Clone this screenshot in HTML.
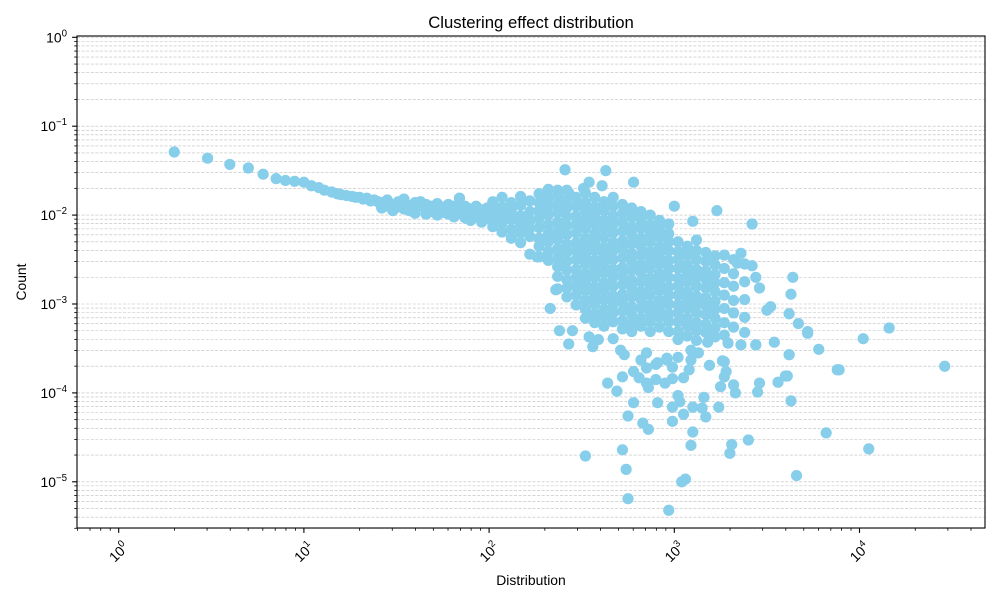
<!DOCTYPE html>
<html><head><meta charset="utf-8"><style>
html,body{margin:0;padding:0;background:#fff;}
svg{display:block;font-family:"Liberation Sans","DejaVu Sans",sans-serif;}
</style></head><body>
<svg id="chart" width="1000" height="600" viewBox="0 0 1000 600" xmlns="http://www.w3.org/2000/svg">
<rect width="1000" height="600" fill="#fff"/>
<g id="grid"></g>
<g id="points"></g>
<rect x="77" y="36" width="908" height="492" fill="none" stroke="#000" stroke-width="1.1"/>
<g id="xticks"></g>
<g id="yticks"></g>
<text x="531" y="28" text-anchor="middle" font-size="16.7">Clustering effect distribution</text>
<text x="531" y="585" text-anchor="middle" font-size="13.9">Distribution</text>
<text x="26" y="282" text-anchor="middle" font-size="13.9" transform="rotate(-90 26 282)">Count</text>
</svg>
<script>
// log10 of Distribution (one per column) and log10 of Count values in that column
const distLog = [
0.30,0.48,0.60,0.70,0.78,0.85,0.90,0.95,1.00,1.04,1.08,1.11,1.15,1.18,1.20,1.23,1.26,1.28,1.30,1.32,1.34,1.36,1.38,1.40,
1.42,1.45,1.48,1.51,1.54,1.57,1.60,1.63,1.66,1.69,1.72,1.75,1.78,1.81,1.84,1.87,1.90,1.93,1.96,1.99,
2.02,2.07,2.12,2.17,2.22,2.27,2.32,
2.37,2.42,2.47,2.52,
2.57,2.62,2.67,2.72,2.77,2.82,2.87,2.92,2.97,
3.02,3.07,3.12,3.17,3.22,
3.27,3.32,3.38
];
const countLog = [
[-1.29],[-1.36],[-1.43],[-1.47],[-1.54],[-1.59],[-1.61],[-1.62],[-1.63],[-1.67],[-1.69],[-1.72],[-1.74],[-1.76],[-1.77],[-1.78],[-1.79],[-1.80],[-1.80],[-1.82],[-1.81],[-1.84],[-1.83],[-1.85],
[-1.86,-1.92],[-1.83,-1.90],[-1.88,-1.95],[-1.85,-1.91],[-1.87,-1.93,-1.82],[-1.89,-1.95],[-1.86,-1.92,-1.98],[-1.90,-1.85],[-1.93,-1.88,-1.99],[-1.90,-1.96],[-1.94,-1.87,-2.00],[-1.91,-1.97],[-1.93,-1.99,-1.88],[-1.95,-1.90,-2.02],[-1.97,-1.92,-1.81],[-1.95,-2.03,-1.90],[-1.98,-1.93,-2.06],[-1.96,-2.02,-1.90],[-2.00,-1.94,-2.08],[-1.97,-2.04,-1.92],
[-1.85,-1.94,-2.04,-2.13],
[-1.80,-1.91,-2.00,-2.09,-2.19],
[-1.86,-1.95,-2.05,-2.16,-2.26],
[-1.79,-1.89,-2.01,-2.10,-2.20,-2.31],
[-1.84,-1.96,-2.06,-2.15,-2.24,-2.44],
[-1.76,-1.86,-1.95,-2.04,-2.14,-2.26,-2.35,-2.47],
[-1.71,-1.81,-1.90,-2.00,-2.11,-2.21,-2.30,-2.41,-2.51],
[-1.78,-1.88,-1.97,-2.08,-2.18,-2.27,-2.38,-2.48,-2.58,-2.69,-2.83],
[-1.72,-1.83,-1.92,-2.02,-2.12,-2.22,-2.33,-2.42,-2.52,-2.62,-2.73,-2.82,-2.92],
[-1.80,-1.90,-2.01,-2.10,-2.20,-2.31,-2.40,-2.50,-2.61,-2.70,-2.80,-2.90,-3.01],
[-1.75,-1.86,-1.95,-2.05,-2.15,-2.26,-2.35,-2.45,-2.55,-2.66,-2.75,-2.85,-2.96,-3.06,-3.16],
[-1.80,-1.91,-2.00,-2.10,-2.21,-2.30,-2.40,-2.51,-2.60,-2.70,-2.81,-2.90,-3.00,-3.11,-3.21],
[-1.85,-1.95,-2.06,-2.15,-2.25,-2.36,-2.45,-2.55,-2.65,-2.76,-2.85,-2.95,-3.06,-3.15,-3.25],
[-1.80,-1.90,-2.01,-2.10,-2.20,-2.31,-2.40,-2.50,-2.61,-2.70,-2.80,-2.91,-3.00,-3.10,-3.20],
[-1.88,-1.98,-2.08,-2.18,-2.29,-2.38,-2.48,-2.59,-2.68,-2.78,-2.89,-2.98,-3.08,-3.19,-3.28],
[-1.92,-2.02,-2.13,-2.22,-2.32,-2.43,-2.52,-2.62,-2.73,-2.82,-2.92,-3.03,-3.12,-3.22,-3.31],
[-1.96,-2.06,-2.15,-2.26,-2.35,-2.45,-2.56,-2.65,-2.75,-2.86,-2.95,-3.05,-3.16,-3.25],
[-2.00,-2.11,-2.20,-2.30,-2.41,-2.50,-2.60,-2.71,-2.80,-2.90,-3.01,-3.10,-3.20,-3.31],
[-2.06,-2.15,-2.25,-2.36,-2.45,-2.55,-2.66,-2.75,-2.85,-2.96,-3.05,-3.15,-3.26],
[-2.10,-2.21,-2.30,-2.40,-2.51,-2.60,-2.70,-2.81,-2.90,-3.00,-3.11,-3.20,-3.31],
[-2.30,-2.41,-2.50,-2.60,-2.71,-2.80,-2.90,-3.01,-3.10,-3.20,-3.31,-3.40],
[-2.35,-2.45,-2.56,-2.65,-2.75,-2.86,-2.95,-3.05,-3.16,-3.25,-3.36],
[-2.28,-2.40,-2.50,-2.61,-2.70,-2.80,-2.91,-3.00,-3.10,-3.21,-3.30,-3.41],
[-2.42,-2.52,-2.63,-2.72,-2.82,-2.93,-3.02,-3.12,-3.23,-3.32],
[-2.46,-2.56,-2.67,-2.76,-2.86,-2.97,-3.06,-3.16,-3.27,-3.37],
[-2.45,-2.60,-2.76,-2.90,-3.05,-3.21,-3.35],
[-2.50,-2.66,-2.80,-2.96,-3.10,-3.26],
[-2.55,-2.75,-2.95,-3.15,-3.32]
];
// individual scattered points (log10 Distribution, log10 Count)
const outlierDistLog = [2.41,2.63,2.78,2.54,2.51,2.61,2.37,2.43,3.23,3.42,3.10,3.00,1.84,2.26,2.36,2.38,2.43,2.33,
2.45,2.54,2.56,2.59,2.67,2.71,2.73,2.82,2.85,2.91,2.96,3.02,2.99,3.09,3.13,3.09,3.19,3.18,3.29,3.36,3.44,3.54,3.62,3.78,3.72,3.88,3.27,3.28,3.27,3.25,3.32,3.33,3.46,3.45,3.56,3.61,3.63,3.24,3.16,3.15,3.17,3.10,3.05,3.02,3.03,2.99,2.99,3.10,3.09,3.31,3.30,3.40,3.82,3.66,3.06,3.04,2.97,2.75,2.74,2.72,2.52,2.83,2.86,2.75,2.78,2.91,2.69,2.64,2.72,2.81,2.85,2.86,2.90,2.95,2.99,3.05,3.08,2.78,2.85,2.90,2.96,3.26,
3.64,3.63,3.62,3.67,3.72,3.62,3.60,3.89,4.02,4.16,4.46,3.52,3.50,3.44,3.46,3.42,3.36,3.34,3.44,4.05];
const outlierCountLog = [-1.49,-1.50,-1.63,-1.63,-1.70,-1.67,-1.72,-1.75,-1.95,-2.10,-2.07,-1.90,-1.81,-2.47,-2.84,-3.30,-3.45,-3.05,
-3.30,-3.37,-3.48,-3.40,-3.39,-3.52,-3.57,-3.63,-3.55,-3.66,-3.63,-3.60,-3.71,-3.52,-3.55,-3.63,-3.69,-3.43,-3.44,-3.46,-3.46,-3.43,-3.57,-3.51,-3.33,-3.74,-3.65,-3.76,-3.82,-3.93,-3.91,-4.00,-3.89,-3.99,-3.88,-3.81,-4.09,-4.16,-4.05,-4.17,-4.27,-4.16,-4.24,-4.03,-4.10,-4.16,-4.32,-4.44,-4.59,-4.58,-4.68,-4.53,-4.45,-4.93,-4.97,-5.00,-5.32,-5.19,-4.86,-4.64,-4.71,-4.34,-4.41,-4.26,-4.11,-4.11,-3.98,-3.89,-3.82,-3.83,-3.89,-3.94,-3.85,-3.89,-3.84,-3.83,-3.74,-3.76,-3.72,-3.68,-3.61,-3.64,
-2.70,-2.89,-3.11,-3.22,-3.31,-3.57,-3.81,-3.74,-3.39,-3.27,-3.70,-3.03,-3.07,-2.70,-2.82,-2.57,-2.43,-2.54,-3.46,-4.63];
const xTickExps = [0,1,2,3,4];
const yTickExps = [0,-1,-2,-3,-4,-5];

const NS = 'http://www.w3.org/2000/svg';
const X0 = 77, X1 = 985, Y0 = 36, Y1 = 528;
function xPos(e){ return 118.7 + 185.2 * e; }
function yPos(e){ return 37.3 - 88.9 * e; }
function mk(tag, attrs, parent){ const el = document.createElementNS(NS, tag); for (const k in attrs) el.setAttribute(k, attrs[k]); parent.appendChild(el); return el; }

const grid = document.getElementById('grid');
const yt = document.getElementById('yticks');
const xt = document.getElementById('xticks');
const pts = document.getElementById('points');

for (let d = -6; d <= 0; d++) {
  for (let m = 1; m <= 9; m++) {
    const e = d + Math.log10(m);
    const y = yPos(e);
    if (y < Y0 - 0.5 || y > Y1 + 0.5) continue;
    const gl = mk('line', {x1: X0, x2: X1, y1: y, y2: y, stroke: '#bdbdbd', 'stroke-width': 0.6, 'stroke-dasharray': '3,1.6'}, grid);
    
    
    const tl = mk('line', {x1: X0 - (m === 1 ? 4.9 : 2.8), x2: X0, y1: y, y2: y, stroke: '#000', 'stroke-width': m === 1 ? 1.1 : 0.8}, yt);
    
    
  }
}
yTickExps.forEach(e => {
  const y = yPos(e);
  const t = mk('text', {x: 67, y: y + 5, 'text-anchor': 'end', 'font-size': 13.9}, yt);
  
  
  const a = document.createElementNS(NS, 'tspan'); a.textContent = '10'; t.appendChild(a);
  const b = document.createElementNS(NS, 'tspan'); b.setAttribute('dy', -6); b.setAttribute('font-size', 9.7); b.textContent = (e === 0 ? '0' : '\u2212' + (-e)); t.appendChild(b);
});
for (let d = -1; d <= 4; d++) {
  for (let m = 1; m <= 9; m++) {
    const e = d + Math.log10(m);
    const x = xPos(e);
    if (x < X0 - 0.5 || x > X1 + 0.5) continue;
    const tl = mk('line', {x1: x, x2: x, y1: Y1, y2: Y1 + (m === 1 ? 4.9 : 2.8), stroke: '#000', 'stroke-width': m === 1 ? 1.1 : 0.8}, xt);
    
    
  }
}
xTickExps.forEach(e => {
  const x = xPos(e), cy = 552;
  const t = mk('text', {x: x, y: cy + 5, 'text-anchor': 'middle', 'font-size': 13.9, transform: 'rotate(-45 ' + x + ' ' + cy + ')'}, xt);
  
  
  const a = document.createElementNS(NS, 'tspan'); a.textContent = '10'; t.appendChild(a);
  const b = document.createElementNS(NS, 'tspan'); b.setAttribute('dy', -6); b.setAttribute('font-size', 9.7); b.textContent = String(e); t.appendChild(b);
});
function dot(ex, ey){
  const c = mk('circle', {cx: xPos(ex), cy: yPos(ey), r: 5.6, fill: '#87ceeb'}, pts);
  
  
}
distLog.forEach((ex, i) => countLog[i].forEach(ey => dot(ex, ey)));
outlierDistLog.forEach((ex, i) => dot(ex, outlierCountLog[i]));
</script>
</body></html>
